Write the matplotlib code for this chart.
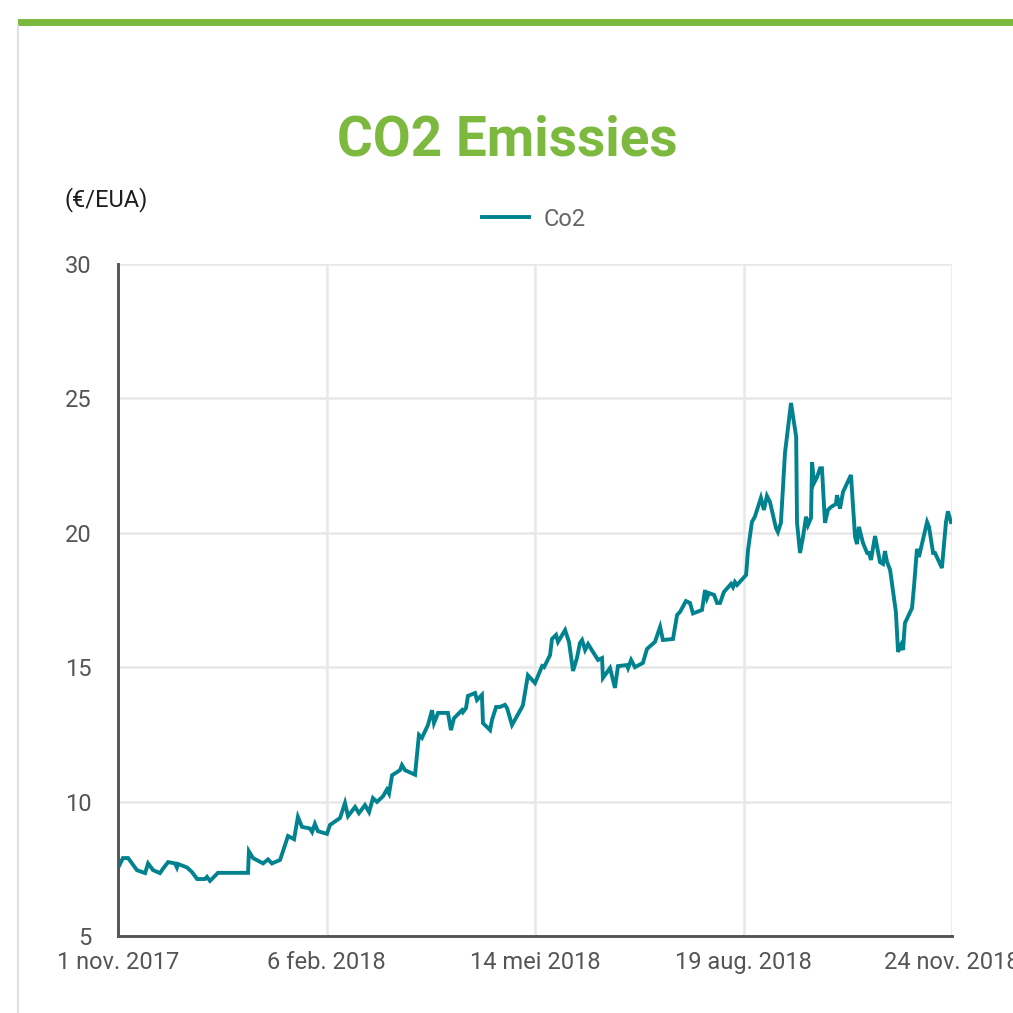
import matplotlib
matplotlib.use('Agg')
import matplotlib.pyplot as plt
import pandas as pd
from matplotlib.patches import Rectangle
from matplotlib.lines import Line2D

# days after 1 nov. 2017, with the EUA price
start_date = pd.Timestamp('2017-11-01')
day_offsets = [
    0.0, 2.3, 4.7, 8.8, 12.6, 14.0, 16.3, 19.5, 20.9, 23.3, 26.5, 27.4, 27.9,
    32.1, 34.4, 36.8, 40.5, 41.4, 42.8, 46.5, 60.5, 60.9, 62.8, 67.5, 69.8,
    71.6, 75.4, 79.1, 81.9, 83.7, 85.6, 89.3, 90.3, 91.6, 93.0, 97.2, 98.6,
    103.3, 105.6, 107.0, 110.3, 112.1, 114.9, 116.8, 118.6, 120.5, 123.3,
    125.1, 126.1, 127.5, 131.2, 132.1, 133.5, 138.2, 140.0, 141.4, 144.2,
    146.1, 147.0, 148.9, 153.5, 154.9, 156.3, 160.0, 160.5, 161.9, 162.8,
    166.1, 167.0, 169.3, 169.8, 173.1, 174.0, 175.9, 177.7, 180.0, 181.0,
    183.3, 188.0, 188.4, 190.7, 194.0, 197.3, 198.2, 201.0, 201.9, 203.8,
    204.7, 208.0, 209.8, 211.7, 213.5, 214.9, 215.9, 217.3, 218.7, 222.8,
    223.3, 225.2, 225.6, 228.9, 231.2, 232.6, 236.8, 237.3, 238.7, 240.5,
    244.2, 246.1, 249.8, 252.2, 253.5, 258.2, 260.1, 261.5, 264.2, 266.1,
    267.5, 271.7, 273.1, 274.0, 274.9, 277.3, 278.7, 280.1, 281.9, 285.2,
    286.1, 287.0, 288.0, 292.2, 293.1, 294.9, 296.3, 299.1, 300.5, 301.9,
    303.3, 306.1, 307.0, 308.4, 310.3, 313.1, 315.5, 315.9, 317.3, 318.7,
    320.1, 321.0, 322.4, 322.9, 323.8, 325.2, 326.6, 327.5, 328.9, 330.3,
    331.7, 334.0, 334.5, 335.9, 337.3, 341.0, 342.9, 343.8, 344.7, 346.6,
    348.5, 349.4, 350.3, 352.2, 354.5, 355.9, 356.8, 357.8, 359.2, 361.9,
    362.9, 364.3, 365.2, 366.1, 369.4, 370.3, 371.7, 372.6, 376.4, 377.3,
    379.2, 380.1, 383.3, 385.2, 386.1, 387.5,
]
co2_prices = [
    7.53, 7.9, 7.9, 7.45, 7.34, 7.7, 7.45, 7.34, 7.5, 7.75, 7.7, 7.55, 7.68,
    7.55, 7.38, 7.12, 7.12, 7.2, 7.05, 7.35, 7.35, 8.15, 7.9, 7.7, 7.85,
    7.7, 7.83, 8.72, 8.6, 9.43, 9.06, 9.0, 8.87, 9.17, 8.9, 8.8, 9.13,
    9.39, 9.95, 9.46, 9.8, 9.57, 9.87, 9.61, 10.13, 9.99, 10.2,
    10.45, 10.3, 10.98, 11.17, 11.36, 11.17, 11.0, 12.48, 12.37, 12.85,
    13.4, 12.92, 13.3, 13.3, 12.66, 13.1, 13.4, 13.33, 13.48, 13.93,
    14.04, 13.78, 13.97, 12.92, 12.66, 13.04, 13.52, 13.52, 13.6, 13.48,
    12.85, 13.52, 13.6, 14.7, 14.41, 15.04, 15.0, 15.45, 16.05, 16.2,
    15.94, 16.38, 15.94, 14.86, 15.34, 15.9, 16.01, 15.64, 15.86, 15.34,
    15.27, 15.34, 14.6, 14.97, 14.23, 15.04, 15.08, 14.97, 15.27, 15.0,
    15.16, 15.68, 15.94, 16.5, 16.01, 16.05, 16.94, 17.06, 17.46, 17.39,
    17.0, 17.13, 17.87, 17.57, 17.76, 17.69, 17.39, 17.39, 17.8, 18.1,
    17.98, 18.17, 18.06, 18.43, 19.36, 20.4, 20.6, 21.3, 20.85, 21.37,
    21.15, 20.18, 20.03, 20.37, 22.97, 24.83, 23.57, 20.37, 19.25, 19.85,
    20.6, 20.29, 20.55, 22.63, 21.85, 22.07, 22.4, 22.4, 20.37, 20.85,
    20.96, 21.07, 21.4, 20.9, 21.52, 22.15, 19.85, 19.58, 20.22, 19.62,
    19.25, 19.25, 18.99, 19.88, 18.91, 18.84, 19.32, 18.91, 18.62, 17.05,
    15.57, 15.83, 15.64, 16.64, 17.2, 17.98, 19.4, 19.1, 20.4, 20.22,
    19.25, 19.25, 18.69, 20.4, 20.8, 20.4,
]

tick_dates = ['2017-11-01', '2018-02-06', '2018-05-14', '2018-08-19', '2018-11-24']
tick_labels = ['1 nov. 2017', '6 feb. 2018', '14 mei 2018', '19 aug. 2018', '24 nov. 2018']
y_ticks = [5, 10, 15, 20, 25, 30]

plt.rcParams['font.family'] = ['Roboto', 'DejaVu Sans']

W = 1013
fig = plt.figure(figsize=(W / 100, W / 100), dpi=100)

# green band on top and the thin card border on the left
fig.add_artist(Rectangle((18 / W, 1 - 26 / W), 1, 7 / W, transform=fig.transFigure,
                         color='#7cb93e', lw=0))
fig.add_artist(Line2D([18 / W, 18 / W], [0, 1 - 26 / W], transform=fig.transFigure,
                      color='#e2e2e2', lw=1.5))

fig.text(507 / W, 1 - 140 / W, 'CO2 Emissies', ha='center', va='center',
         fontsize=39.5, fontweight='bold', color='#7cb93e')
fig.text(64 / W, 1 - 200 / W, '(€/EUA)', ha='left', va='center',
         fontsize=17, color='#1e1e1e')

ax = fig.add_axes([118 / W, 1 - 936 / W, 834 / W, 672 / W])
dates = start_date + pd.to_timedelta(day_offsets, unit='D')
ax.plot(dates, co2_prices, color='#00838f', lw=2.8, label='Co2', solid_joinstyle='miter')

ax.set_xlim(pd.Timestamp(tick_dates[0]), pd.Timestamp(tick_dates[-1]))
ax.set_ylim(5, 30)
ax.set_xticks(pd.to_datetime(tick_dates))
ax.set_xticklabels(tick_labels)
ax.set_yticks(y_ticks)
ax.tick_params(length=0, labelsize=17, labelcolor='#555555')
ax.tick_params(axis='y', pad=19)
ax.tick_params(axis='x', pad=11)
ax.grid(True, color='#e8e8e8', lw=1.8)
ax.set_axisbelow(True)
for side in ['top', 'right']:
    ax.spines[side].set_visible(False)
for side in ['left', 'bottom']:
    ax.spines[side].set_color('#555555')
    ax.spines[side].set_linewidth(2.1)
    ax.spines[side].set_zorder(3)

ax.legend(loc='center', bbox_to_anchor=(534 / W, 1 - 219 / W),
          bbox_transform=fig.transFigure, frameon=False, fontsize=17,
          labelcolor='#666666', handlelength=2.0, handletextpad=0.6)

fig.savefig('out.png', dpi=100, facecolor='white')
